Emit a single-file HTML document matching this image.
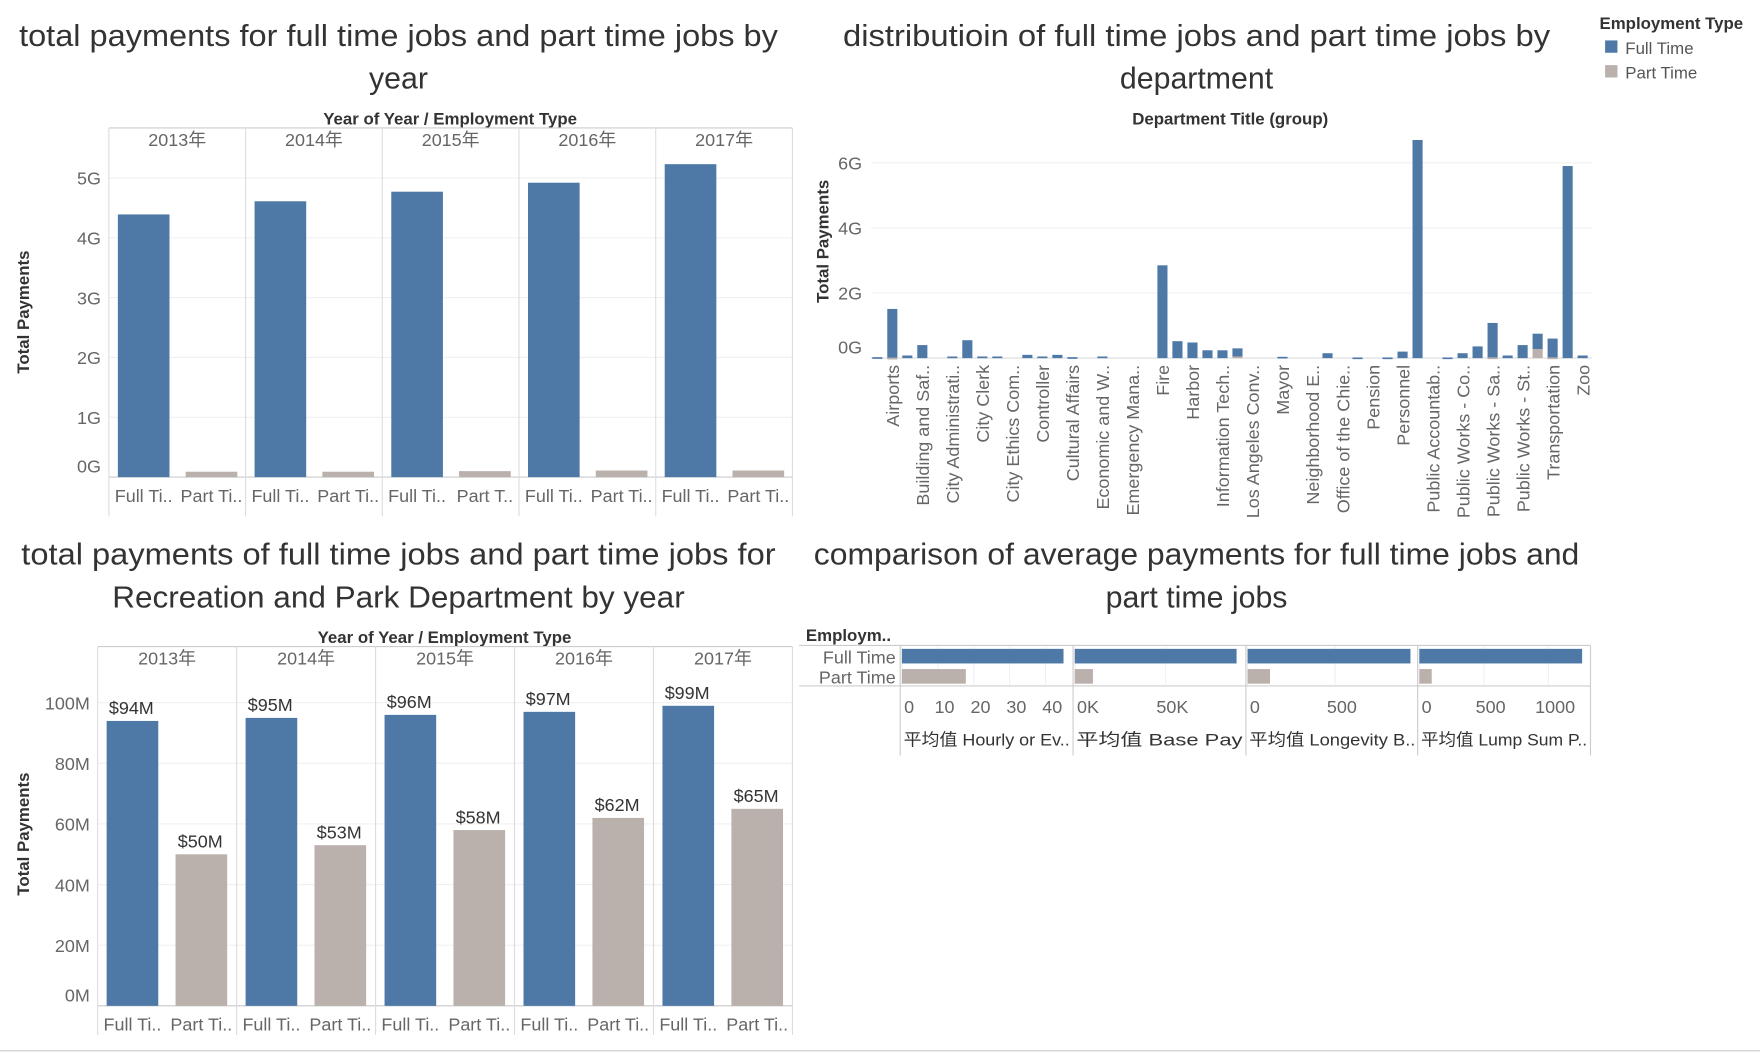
<!DOCTYPE html>
<html><head><meta charset="utf-8">
<style>
html,body{margin:0;padding:0;background:#fff;}
svg{display:block;font-family:"Liberation Sans","Noto Sans CJK SC",sans-serif;}
</style></head>
<body>
<svg id="root" width="1760" height="1053" viewBox="0 0 1568 938" preserveAspectRatio="none" xmlns="http://www.w3.org/2000/svg">
<line x1="0" y1="936" x2="1568" y2="936" stroke="#ccc"/>
<g>
 <text x="1425" y="26" font-size="15" font-weight="bold" fill="#333">Employment Type</text>
 <rect x="1430" y="36" width="11" height="11" fill="#4e79a7"/>
 <text x="1448" y="48" font-size="15" fill="#555">Full Time</text>
 <rect x="1430" y="58" width="11" height="11" fill="#bab0ac"/>
 <text x="1448" y="70" font-size="15" fill="#555">Part Time</text>
</g>
</svg>
<script>
// ---------- data ----------
const years = ['2013年','2014年','2015年','2016年','2017年'];
const c1FullTime = [4.39, 4.61, 4.77, 4.92, 5.23];
const c1PartTime = [0.09, 0.09, 0.10, 0.11, 0.11];
const c1Ticks = [0, 1, 2, 3, 4, 5];
const c1TickLabels = ['0G','1G','2G','3G','4G','5G'];

const c3FullTime = [94, 95, 96, 97, 99];
const c3PartTime = [50, 53, 58, 62, 65];
const c3Ticks = [0, 20, 40, 60, 80, 100];
const c3TickLabels = ['0M','20M','40M','60M','80M','100M'];

const deptNames = ['Aging','Airports','Animal Services','Building and Saf..','Cannabis Regulation','City Administrati..','City Attorney','City Clerk','City Council','City Ethics Com..','City Planning','Controller','Convention Tourism','Cultural Affairs','Disability','Economic and W..','El Pueblo','Emergency Mana..','Finance','Fire','General Services','Harbor','Housing','Information Tech..','Library','Los Angeles Conv..','Library Services','Mayor','Water and Power','Neighborhood E..','Police','Office of the Chie..','Planning','Pension','Personnel Admin','Personnel','Police Department','Public Accountab..','Public Works - Board','Public Works - Co..','Public Works - En..','Public Works - Sa..','Public Works - Li..','Public Works - St..','Recreation and Parks','Transportation','Water and Power Dept','Zoo'];
const deptFullTime = [0.03,1.5,0.08,0.4,0,0.05,0.55,0.05,0.05,0,0.1,0.05,0.1,0.03,0,0.05,0,0,0,2.85,0.52,0.48,0.24,0.24,0.25,0,0,0.04,0,0,0.15,0,0.02,0,0.02,0.2,6.7,0,0.02,0.15,0.36,1.06,0.08,0.4,0.47,0.58,5.9,0.08];
const deptPartTime = [0,0.01,0,0,0,0,0,0,0,0,0,0,0,0,0,0,0,0,0,0,0,0,0,0,0.05,0,0,0,0,0,0,0,0,0,0,0,0,0,0,0,0,0.02,0,0,0.28,0.02,0,0];
const c2Ticks = [0, 2, 4, 6];
const c2TickLabels = ['0G','2G','4G','6G'];

const avgMeasures = ['平均值 Hourly or Ev..','平均值 Base Pay','平均值 Longevity B..','平均值 Lump Sum P..'];
const avgFullTime = [45, 89000, 930, 1261];
const avgPartTime = [17.8, 10000, 128, 96];
const avgTicks = [[0,10,20,30,40],[0,50000],[0,500],[0,500,1000]];
const avgTickLabels = [['0','10','20','30','40'],['0K','50K'],['0','500'],['0','500','1000']];

const BLUE = '#4e79a7', GREY = '#bab0ac';
const NS = 'http://www.w3.org/2000/svg';
const root = document.getElementById('root');
function el(tag, attrs, parent, text) {
  const e = document.createElementNS(NS, tag);
  for (const k in attrs) e.setAttribute(k, attrs[k]);
  if (text !== undefined) e.textContent = text;
  (parent || root).appendChild(e);
  return e;
}

// ---------- titles ----------
const titles = [
  ['total payments for full time jobs and part time jobs by', 355, 41, 676],
  ['year', 355, 79, 0],
  ['distributioin of full time jobs and part time jobs by', 1066, 41, 630],
  ['department', 1066, 79, 0],
  ['total payments of full time jobs and part time jobs for', 355, 503, 672],
  ['Recreation and Park Department by year', 355, 541, 510],
  ['comparison of average payments for full time jobs and', 1066, 503, 682],
  ['part time jobs', 1066, 541, 0]
];
titles.forEach(t => {
  const a = {x: t[1], y: t[2], 'text-anchor': 'middle', 'font-size': 27, fill: '#333'};
  if (t[3]) { a.textLength = t[3]; a.lengthAdjust = 'spacingAndGlyphs'; }
  const e = el('text', a, root, t[0]);
  
  
});

// ---------- year panel charts (1 and 3) ----------
function yearChart(o) {
  const g = el('g', {}, root);
  
  
  const yScale = v => o.base - (v - 0) * o.pxPer;
  const h = el('text', {x: o.hx, y: o.hy, 'text-anchor': 'middle', 'font-size': 15, 'font-weight': 'bold', fill: '#333'}, g, 'Year of Year  /  Employment Type');
  
  
  const ya = el('text', {x: 0, y: 0, transform: `translate(${o.ylx},${o.yly}) rotate(-90)`, 'text-anchor': 'middle', 'font-size': 15, 'font-weight': 'bold', fill: '#333'}, g, 'Total Payments');
  
  
  o.ticks.forEach((t, i) => {
    const y = yScale(t);
    const gl = el('line', {x1: o.x0, x2: o.x1, y1: y, y2: y, stroke: '#f0f0f0'}, g);
    
    
    const tl = el('text', {x: o.x0 - 7, y: Math.min(y + 6, o.base - 4), 'text-anchor': 'end', 'font-size': 16, fill: '#666'}, g, o.tickLabels[i]);
    
    
  });
  const pw = (o.x1 - o.x0) / years.length;
  const fr = el('line', {x1: o.x0, x2: o.x1, y1: o.top, y2: o.top, stroke: '#ccc'}, g);
  
  
  const fr2 = el('line', {x1: o.x0, x2: o.x1, y1: o.base, y2: o.base, stroke: '#ccc'}, g);
  
  
  years.forEach((yr, i) => {
    const px = o.x0 + i * pw;
    const sep = el('line', {x1: px, x2: px, y1: o.top, y2: o.bottom, stroke: '#ddd'}, g);
    
    
    const yl = el('text', {x: px + pw / 2, y: o.top + 16, 'text-anchor': 'middle', 'font-size': 16, fill: '#666'}, g, yr);
    
    
    const vals = [o.ft[i], o.pt[i]];
    const cols = [BLUE, GREY];
    const labs = ['Full Ti..', o.ptLab ? o.ptLab[i] : 'Part Ti..'];
    vals.forEach((v, j) => {
      const bx = px + 8 + j * (pw / 2 - 0.5);
      const bw = 46;
      const y = yScale(v);
      const r = el('rect', {x: bx, y: y, width: bw, height: o.base - y, fill: cols[j]}, g);
      
      
      const xl = el('text', {x: bx + bw / 2, y: o.base + 22, 'text-anchor': 'middle', 'font-size': 16, fill: '#666'}, g, labs[j]);
      
      
      if (o.valueLabels) {
        const vl = el('text', {x: bx + bw / 2 - 1, y: y - 6, 'text-anchor': 'middle', 'font-size': 16, fill: '#333'}, g, '$' + v + 'M');
        
        
      }
    });
  });
  const last = el('line', {x1: o.x1, x2: o.x1, y1: o.top, y2: o.bottom, stroke: '#ddd'}, g);
  
  
}
yearChart({name: 'chart-yearly-total-payments', x0: 97, x1: 706, top: 114, base: 425, bottom: 460, pxPer: 53.3,
  ft: c1FullTime, pt: c1PartTime, ticks: c1Ticks, tickLabels: c1TickLabels, hx: 401, hy: 111, ylx: 26, yly: 278,
  ptLab: ['Part Ti..','Part Ti..','Part T..','Part Ti..','Part Ti..']});
yearChart({name: 'chart-recreation-parks-payments', x0: 87, x1: 706, top: 576, base: 896, bottom: 922, pxPer: 2.7,
  ft: c3FullTime, pt: c3PartTime, ticks: c3Ticks, tickLabels: c3TickLabels, hx: 396, hy: 573, ylx: 26, yly: 743,
  valueLabels: true});

// ---------- department chart ----------
(function () {
  const g = el('g', {}, root);
  
  
  const base = 319, pxPer = 29, x0 = 776, x1 = 1418;
  const xPos = i => 781.6 + i * 13.37;
  const yScale = v => base - v * pxPer;
  const h = el('text', {x: 1096, y: 111, 'text-anchor': 'middle', 'font-size': 15, 'font-weight': 'bold', fill: '#333'}, g, 'Department Title (group)');
  
  
  const ya = el('text', {transform: 'translate(738,215) rotate(-90)', 'text-anchor': 'middle', 'font-size': 15, 'font-weight': 'bold', fill: '#333'}, g, 'Total Payments');
  
  
  c2Ticks.forEach((t, i) => {
    const y = yScale(t);
    const gl = el('line', {x1: x0, x2: x1, y1: y, y2: y, stroke: '#f0f0f0'}, g);
    
    
    const tl = el('text', {x: x0 - 8, y: t === 0 ? y - 4 : y + 6, 'text-anchor': 'end', 'font-size': 16, fill: '#666'}, g, c2TickLabels[i]);
    
    
  });
  const ax = el('line', {x1: x0, x2: x1, y1: base, y2: base, stroke: '#ddd'}, g);
  
  
  deptNames.forEach((n, i) => {
    const cx = xPos(i);
    const pt = deptPartTime[i], ft = deptFullTime[i];
    if (ft > 0) {
      const r = el('rect', {x: cx - 4.5, y: yScale(pt + ft), width: 9, height: Math.max(ft * pxPer, 1.5), fill: BLUE}, g);
      
      
    }
    if (pt > 0) {
      const r = el('rect', {x: cx - 4.5, y: yScale(pt), width: 9, height: Math.max(pt * pxPer, 1.5), fill: GREY}, g);
      
      
    }
    if (i % 2 === 1) {
      const t = el('text', {transform: `translate(${cx + 6},325) rotate(-90)`, 'text-anchor': 'end', 'font-size': 16, fill: '#666'}, g, n);
      
      
    }
  });
})();

// ---------- average payments chart ----------
(function () {
  const g = el('g', {}, root);
  
  
  const h = el('text', {x: 718, y: 571, 'font-size': 15, 'font-weight': 'bold', fill: '#333'}, g, 'Employm..');
  
  
  const rl1 = el('text', {x: 798, y: 591, 'text-anchor': 'end', 'font-size': 16, fill: '#666'}, g, 'Full Time');
  
  
  const rl2 = el('text', {x: 798, y: 609, 'text-anchor': 'end', 'font-size': 16, fill: '#666'}, g, 'Part Time');
  
  
  [[712, 1417, 575], [712, 1417, 611]].forEach(l => {
    const e = el('line', {x1: l[0], x2: l[1], y1: l[2], y2: l[2], stroke: '#ccc'}, g);
    
    
  });
  const panelX = [802, 956, 1110, 1263, 1417];
  const scales = [3.2, 81 / 50000, 78 / 500, 57.5 / 500];
  panelX.forEach(px => {
    const e = el('line', {x1: px, x2: px, y1: 575, y2: 673, stroke: '#ccc'}, g);
    
    
  });
  avgMeasures.forEach((m, i) => {
    const z = panelX[i] + 1.5;
    const s = scales[i];
    avgTicks[i].forEach((t, k) => {
      const x = z + t * s;
      const gl = el('line', {x1: x, x2: x, y1: 576, y2: 610, stroke: '#f0f0f0'}, g);
      
      
      const lab = avgTickLabels[i][k];
      const tl = el('text', {x: k === 0 ? x + 2 : x + 6, y: 635, 'text-anchor': k === 0 ? 'start' : 'middle', 'font-size': 16, fill: '#666'}, g, lab);
      
      
    });
    const r1 = el('rect', {x: z, y: 578, width: avgFullTime[i] * s, height: 13, fill: BLUE}, g);
    
    
    const r2 = el('rect', {x: z, y: 596, width: avgPartTime[i] * s, height: 13, fill: GREY}, g);
    
    
    const mt = el('text', {x: panelX[i] + 77, y: 664, 'text-anchor': 'middle', 'font-size': 15, fill: '#333', textLength: 148, lengthAdjust: 'spacingAndGlyphs'}, g, m);
    
    
  });
})();
</script>
</body></html>
